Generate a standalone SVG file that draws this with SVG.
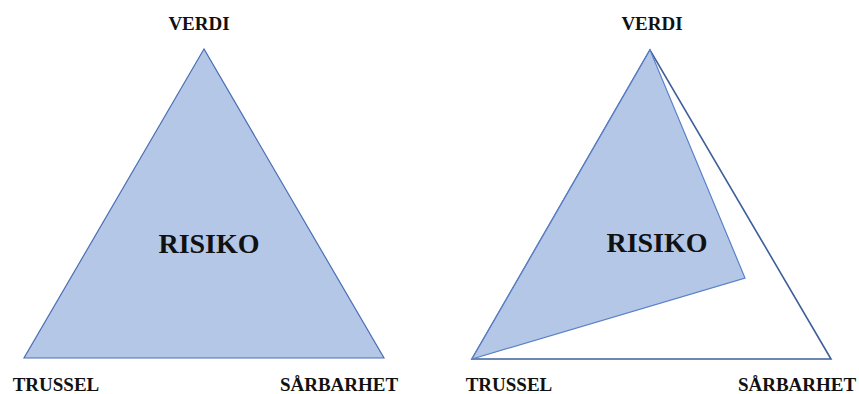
<svg xmlns="http://www.w3.org/2000/svg" width="859" height="394" viewBox="0 0 859 394">
<style>
.lbl{font-family:"Liberation Serif","Times New Roman",serif;font-weight:bold;font-size:19px;fill:#111;text-anchor:middle}
.big{font-family:"Liberation Serif","Times New Roman",serif;font-weight:bold;font-size:28px;fill:#111;text-anchor:middle}
.fill{fill:#b4c7e7;stroke:#4a6fb5;stroke-width:1.2;stroke-linejoin:miter}
.outer{fill:#ffffff;stroke:#3f5f9a;stroke-width:1.6}
</style>
<rect width="859" height="394" fill="#ffffff"/>
<g id="left-triangle">
<polygon class="fill" points="204,49 24,358 384,358"/>
<text class="big" x="209" y="253">RISIKO</text>
</g>
<g id="left-labels">
<text class="lbl" x="199" y="30">VERDI</text>
<text class="lbl" x="56" y="391">TRUSSEL</text>
<text class="lbl" x="339" y="391">SÅRBARHET</text>
</g>
<g id="right-triangle">
<polygon class="outer" points="650,50 472,359 831,359"/>
<polygon class="fill" points="650,50 472,359 745,278" style="stroke:#5a80c8"/>
<text class="big" x="657" y="252">RISIKO</text>
</g>
<g id="right-labels">
<text class="lbl" x="652" y="30">VERDI</text>
<text class="lbl" x="509" y="391">TRUSSEL</text>
<text class="lbl" x="797" y="391">SÅRBARHET</text>
</g>
</svg>
